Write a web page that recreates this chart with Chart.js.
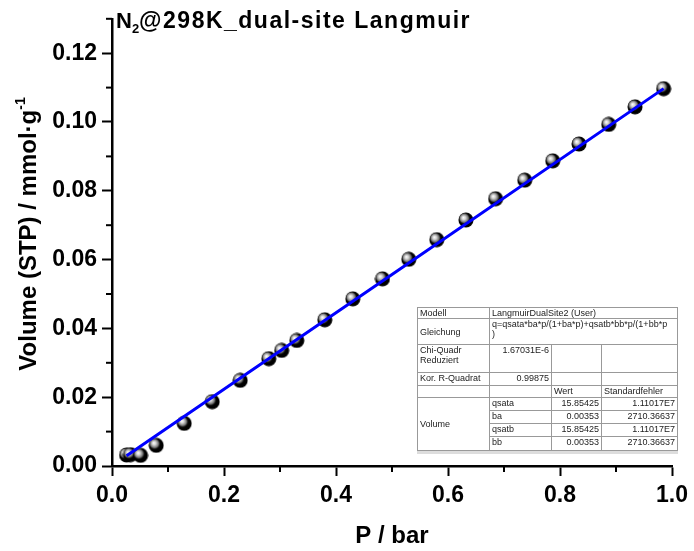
<!DOCTYPE html>
<html>
<head>
<meta charset="utf-8">
<script src="https://cdn.jsdelivr.net/npm/chart.js@4/dist/chart.umd.min.js"></script>
<style>
  body { margin: 0; background: #fff; }
  #wrap { position: relative; width: 694px; height: 551px; }
  #chart { position: absolute; left: 0; top: 0; }
  #fit-table {
    position: absolute; left: 417px; top: 307px; width: 260px;
    border-collapse: collapse; table-layout: fixed; background: #fff;
    font-family: "Liberation Sans", Arial, sans-serif; font-size: 9px; color: #222;
    border: 1px solid #333; box-shadow: 0 3px 0 #ddd;
  }
  #fit-table td { border: 1px solid #999; padding: 0 2px; line-height: 10px; vertical-align: top; overflow: hidden; white-space: nowrap; }
  #fit-table td.r { text-align: right; }
  #fit-table td.m { vertical-align: middle; }
</style>
</head>
<body>
<div id="wrap">
  <canvas id="chart" width="694" height="551"></canvas>
  <table id="fit-table">
    <colgroup><col style="width:72px"><col style="width:62px"><col style="width:50px"><col style="width:76px"></colgroup>
    <tbody id="fit-body"></tbody>
  </table>
</div>
<script>
// 測定データ (P / bar, Volume / mmol/g)
const pressure = [0.026, 0.033, 0.051, 0.079, 0.129, 0.179, 0.229, 0.280, 0.303, 0.330, 0.380, 0.430,
                  0.483, 0.530, 0.580, 0.632, 0.685, 0.737, 0.787, 0.834, 0.887, 0.934, 0.985];
const volume = [0.0032, 0.0033, 0.0031, 0.0060, 0.0124, 0.0187, 0.0249, 0.0312, 0.0336, 0.0365, 0.0425, 0.0486,
                0.0544, 0.0601, 0.0658, 0.0715, 0.0777, 0.0831, 0.0887, 0.0936, 0.0993, 0.1044, 0.1097];

// フィット曲線 (読み取り値)
const fitPressure = [0.026, 0.5, 0.985];
const fitVolume = [0.0030, 0.0557, 0.1097];

// 補助目盛り
const xMinorTicks = [0.1, 0.3, 0.5, 0.7, 0.9];
const yMinorTicks = [0.01, 0.03, 0.05, 0.07, 0.09, 0.11, 0.13];

// フィット結果の表
const modelName = 'LangmuirDualSite2 (User)';
const equation = 'q=qsata*ba*p/(1+ba*p)+qsatb*bb*p/(1+bb*p<br>)';
const chiSqr = '1.67031E-6';
const adjRSqr = '0.99875';
const paramNames = ['qsata', 'ba', 'qsatb', 'bb'];
const paramValues = ['15.85425', '0.00353', '15.85425', '0.00353'];
const paramErrors = ['1.11017E7', '2710.36637', '1.11017E7', '2710.36637'];

const FONT = '"Liberation Sans", Arial, sans-serif';

// 表を作る
function buildTable() {
    const rowHeights = [11, 26, 28, 13, 12, 13, 13, 13, 14];
    let html = '';
    html += `<tr style="height:${rowHeights[0]}px"><td>Modell</td><td colspan="3">${modelName}</td></tr>`;
    html += `<tr style="height:${rowHeights[1]}px"><td class="m">Gleichung</td><td colspan="3">${equation}</td></tr>`;
    html += `<tr style="height:${rowHeights[2]}px"><td>Chi-Quadr<br>Reduziert</td><td class="r">${chiSqr}</td><td></td><td></td></tr>`;
    html += `<tr style="height:${rowHeights[3]}px"><td>Kor. R-Quadrat</td><td class="r">${adjRSqr}</td><td></td><td></td></tr>`;
    html += `<tr style="height:${rowHeights[4]}px"><td></td><td></td><td>Wert</td><td>Standardfehler</td></tr>`;
    for (let i = 0; i < paramNames.length; i++) {
        html += `<tr style="height:${rowHeights[5 + i]}px">`;
        if (i === 0) html += `<td rowspan="4" class="m">Volume</td>`;
        html += `<td>${paramNames[i]}</td><td class="r">${paramValues[i]}</td><td class="r">${paramErrors[i]}</td></tr>`;
    }
    document.getElementById('fit-body').innerHTML = html;
}

// 球状マーカー
function makeSphere() {
    const c = document.createElement('canvas');
    c.width = 16;
    c.height = 16;
    const g = c.getContext('2d');
    g.beginPath();
    g.arc(8, 8, 7.5, 0, Math.PI * 2);
    g.fillStyle = '#000';
    g.fill();
    const grad = g.createRadialGradient(5.5, 5.5, 0, 6.5, 6.5, 6);
    grad.addColorStop(0, '#ffffff');
    grad.addColorStop(0.3, '#d8d8d8');
    grad.addColorStop(0.7, '#707070');
    grad.addColorStop(1, 'rgba(0,0,0,0)');
    g.beginPath();
    g.arc(6.8, 6.8, 6, 0, Math.PI * 2);
    g.fillStyle = grad;
    g.fill();
    return c;
}

// タイトル・Y軸タイトル・補助目盛り
const extrasPlugin = {
    id: 'extras',
    afterDraw(chart) {
        const ctx = chart.ctx;
        const x = chart.scales.x;
        const y = chart.scales.y;
        ctx.save();
        ctx.strokeStyle = '#000';
        ctx.lineWidth = 2;
        xMinorTicks.forEach(v => {
            const px = x.getPixelForValue(v);
            ctx.beginPath();
            ctx.moveTo(px, y.bottom);
            ctx.lineTo(px, y.bottom + 6);
            ctx.stroke();
        });
        yMinorTicks.forEach(v => {
            const py = y.getPixelForValue(v);
            ctx.beginPath();
            ctx.moveTo(x.left - 6, py);
            ctx.lineTo(x.left, py);
            ctx.stroke();
        });

        // N2@298K_dual-site Langmuir
        ctx.fillStyle = '#000';
        ctx.textBaseline = 'alphabetic';
        ctx.textAlign = 'left';
        let tx = 116;
        const ty = 28;
        ctx.font = 'bold 22px ' + FONT;
        ctx.fillText('N', tx, ty);
        tx += ctx.measureText('N').width;
        ctx.font = 'bold 13px ' + FONT;
        ctx.fillText('2', tx, ty + 5);
        tx += ctx.measureText('2').width;
        ctx.font = 'bold 23px ' + FONT;
        ctx.letterSpacing = '1.5px';
        ctx.fillText('@298K_dual-site Langmuir', tx, ty);
        ctx.letterSpacing = '0px';

        // Volume (STP) / mmol·g-1
        ctx.translate(36, 234);
        ctx.rotate(-Math.PI / 2);
        const main = 'Volume (STP) / mmol·g';
        ctx.font = 'bold 24px ' + FONT;
        const wMain = ctx.measureText(main).width;
        ctx.font = 'bold 14px ' + FONT;
        const wSup = ctx.measureText('-1').width;
        const sx = -(wMain + wSup) / 2;
        ctx.font = 'bold 24px ' + FONT;
        ctx.fillText(main, sx, 0);
        ctx.font = 'bold 14px ' + FONT;
        ctx.fillText('-1', sx + wMain, -11);
        ctx.restore();
    }
};

function createChart() {
    const ctx = document.getElementById('chart').getContext('2d');
    const sphere = makeSphere();
    new Chart(ctx, {
        type: 'scatter',
        data: {
            datasets: [{
                label: 'Fit',
                type: 'line',
                data: fitPressure.map((p, i) => ({ x: p, y: fitVolume[i] })),
                borderColor: '#0000ff',
                borderWidth: 3,
                pointRadius: 0,
                fill: false,
                tension: 0,
                order: 0
            }, {
                label: 'N2',
                data: pressure.map((p, i) => ({ x: p, y: volume[i] })),
                pointStyle: sphere,
                pointRadius: 8,
                order: 1
            }]
        },
        options: {
            responsive: false,
            animation: false,
            layout: { padding: { top: 11, right: 19, left: 0, bottom: 0 } },
            plugins: {
                legend: { display: false },
                tooltip: { enabled: false }
            },
            scales: {
                x: {
                    type: 'linear',
                    min: 0,
                    max: 1.0,
                    afterFit(scale) { scale.height = 85; },
                    border: { color: '#000', width: 2.5 },
                    grid: { drawOnChartArea: false, tickLength: 10, tickWidth: 2, tickColor: '#000' },
                    ticks: {
                        stepSize: 0.2,
                        padding: 6,
                        color: '#000',
                        font: { family: FONT, size: 23, weight: 'bold' },
                        callback: v => v.toFixed(1)
                    },
                    title: {
                        display: true,
                        text: 'P / bar',
                        color: '#000',
                        padding: { top: 0, bottom: 0 },
                        font: { family: FONT, size: 24, weight: 'bold' }
                    }
                },
                y: {
                    type: 'linear',
                    min: 0,
                    max: 0.13,
                    afterFit(scale) { scale.width = 112; },
                    border: { color: '#000', width: 2.5 },
                    grid: { drawOnChartArea: false, tickLength: 10, tickWidth: 2, tickColor: '#000' },
                    ticks: {
                        stepSize: 0.02,
                        includeBounds: false,
                        padding: 5,
                        color: '#000',
                        font: { family: FONT, size: 23, weight: 'bold' },
                        callback: v => v.toFixed(2)
                    }
                }
            }
        },
        plugins: [extrasPlugin]
    });
}

buildTable();
createChart();
</script>
</body>
</html>
